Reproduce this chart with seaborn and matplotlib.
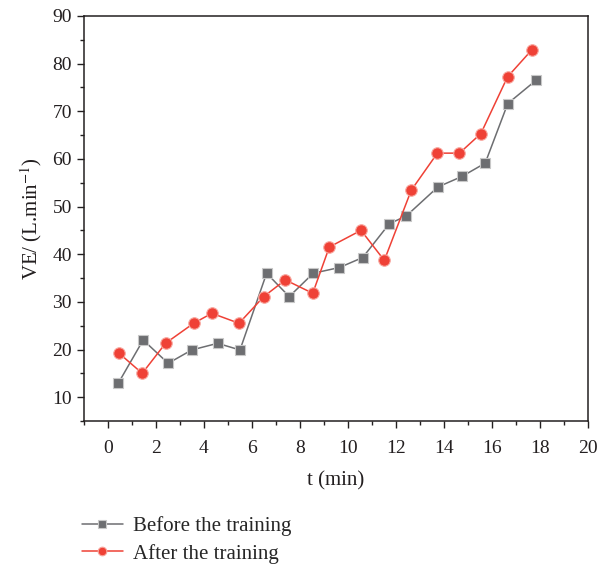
import pandas as pd
import seaborn as sns
import matplotlib.pyplot as plt
from matplotlib.ticker import MultipleLocator

# ---------------------------------------
# 1. Data
# ---------------------------------------
t_before = [0.43, 1.47, 2.51, 3.49, 4.57, 5.5, 6.61, 7.55, 8.55, 9.64,
            10.61, 11.72, 12.42, 13.74, 14.74, 15.71, 16.65, 17.83]
ve_before = [12.9, 22.0, 17.1, 19.9, 21.3, 19.9, 36.0, 31.1, 36.0, 37.2,
             39.3, 46.4, 48.0, 54.1, 56.3, 59.1, 71.6, 76.5]

t_after = [0.47, 1.43, 2.4, 3.57, 4.33, 5.46, 6.49, 7.39, 8.53, 9.22,
           10.54, 11.51, 12.63, 13.72, 14.64, 15.53, 16.64, 17.64]
ve_after = [19.2, 15.0, 21.3, 25.5, 27.6, 25.5, 31.1, 34.6, 31.8, 41.5,
            45.0, 38.7, 53.4, 61.2, 61.2, 65.3, 77.2, 82.8]

x_ticks = [0, 2, 4, 6, 8, 10, 12, 14, 16, 18, 20]
y_ticks = [10, 20, 30, 40, 50, 60, 70, 80, 90]

before = pd.DataFrame({"t": t_before, "VE": ve_before})
after = pd.DataFrame({"t": t_after, "VE": ve_after})

# ---------------------------------------
# 2. Theme
# ---------------------------------------
sns.set_theme(style="ticks")
plt.rcParams["font.family"] = ["Liberation Serif", "DejaVu Serif"]
plt.rcParams["mathtext.fontset"] = "stix"

grey = "#6d6e71"
red = "#ef4136"
ink = "#231f20"

fig = plt.figure(figsize=(5.99, 5.67), dpi=100)
ax = fig.add_axes([0.140, 0.2575, 0.842, 0.7145])

# ---------------------------------------
# 3. Lines
# ---------------------------------------
sns.lineplot(data=before, x="t", y="VE", ax=ax, color=grey, lw=1.1,
             marker="s", markersize=7, markerfacecolor=grey,
             markeredgecolor="#c8c8c8", markeredgewidth=0.8,
             label="Before the training")
sns.lineplot(data=after, x="t", y="VE", ax=ax, color=red, lw=1.1,
             marker="o", markersize=8.3, markerfacecolor=red,
             markeredgecolor="#f8a8a0", markeredgewidth=0.8,
             label="After the training")

# ---------------------------------------
# 4. Axes formatting
# ---------------------------------------
ax.set_xlim(-1, 20)
ax.set_ylim(5, 90)
ax.set_xticks(x_ticks)
ax.set_yticks(y_ticks)
ax.xaxis.set_minor_locator(MultipleLocator(1))
ax.yaxis.set_minor_locator(MultipleLocator(5))
ax.tick_params(axis="both", which="major", direction="out", length=5,
               width=1, labelsize=14, colors=ink)
ax.tick_params(axis="both", which="minor", direction="out", length=3,
               width=1, colors=ink)
ax.tick_params(axis="x", pad=9)
for s in ax.spines.values():
    s.set_linewidth(1.1)
    s.set_color(ink)

ax.set_xlabel("t (min)", fontsize=15, labelpad=10, color=ink)
ax.set_ylabel("VE/ (L.min$^{-1}$)", fontsize=15, labelpad=6, color=ink)

handles, labels = ax.get_legend_handles_labels()
ax.get_legend().remove()
fig.legend(handles, labels, loc="upper left", bbox_to_anchor=(0.105, 0.123),
           frameon=False, fontsize=15, handlelength=2.0, labelspacing=0.38,
           handletextpad=0.45, markerscale=0.75)

fig.savefig("out.png", dpi=100)
